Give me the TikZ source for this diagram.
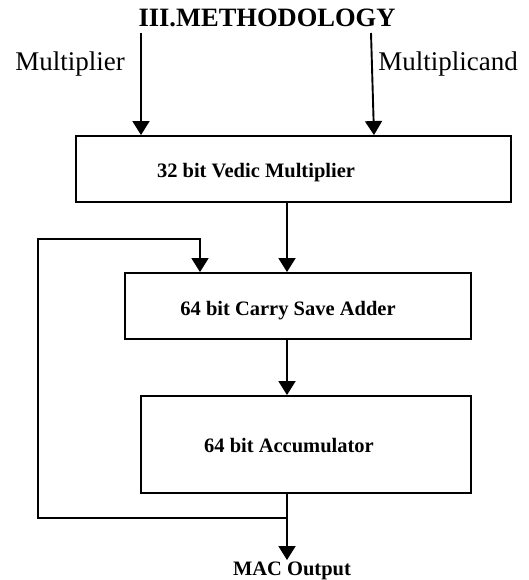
\documentclass[tikz,border=0pt]{standalone}
\usepackage{fontspec}
\setmainfont{Liberation Serif}
\usepackage{tikz}
\usetikzlibrary{arrows.meta}

\tikzset{
  blk/.style={draw, line width=1.9pt, inner sep=0pt},
  boxtxt/.style={anchor=base, inner sep=0pt, font=\fontsize{20.5}{24}\selectfont\bfseries},
  sidetxt/.style={anchor=base, inner sep=0pt, font=\fontsize{27}{30}\selectfont},
  arr/.style={line width=1.9pt, -{Triangle[width=17pt,length=14pt]}}
}

\begin{document}
\begin{tikzpicture}[x=1pt,y=-1pt]
      \useasboundingbox (0,0) rectangle (528,580);
      \node[anchor=base, inner sep=0pt, font=\fontsize{26.5}{30}\selectfont\bfseries] (title) at (267,27) {III.METHODOLOGY};
      \node[sidetxt] (mpl) at (70,71) {Multiplier};
      \node[sidetxt] (mcd) at (448,71) {Multiplicand};

      \node[blk, minimum width=435pt, minimum height=66pt] (vm) at (293.5,169) {};
      \node[blk, minimum width=346pt, minimum height=66pt] (csa) at (298,306) {};
      \node[blk, minimum width=330pt, minimum height=97pt] (acc) at (306,444.5) {};

      \node[boxtxt] (vmtxt) at (256,177) {32 bit Vedic Multiplier};
      \node[boxtxt] (csatxt) at (288,315) {64 bit Carry Save Adder};
      \node[boxtxt] (acctxt) at (289,452) {64 bit Accumulator};
      \node[boxtxt] (mac) at (292,575) {MAC Output};

      \coordinate (mplin) at (141,33);
      \coordinate (mcdin) at (371,33);
      \coordinate (tap) at (287,518);
      \coordinate (fbl) at (38,239);
      \coordinate (macend) at (287,560);

      \draw[arr] (mplin) -- (mplin |- vm.north);
      \draw[arr] (mcdin) -- (vm.north -| 374,0);
      \draw[arr] (vm.south -| 287,0) -- (csa.north -| 287,0);
      \draw[arr] (csa.south -| 287,0) -- (acc.north -| 287,0);
      \draw[arr] (acc.south -| 287,0) -- (macend);
      \draw[arr] (tap) -| (fbl) -| (csa.north -| 200,0);
    \end{tikzpicture}
\end{document}
